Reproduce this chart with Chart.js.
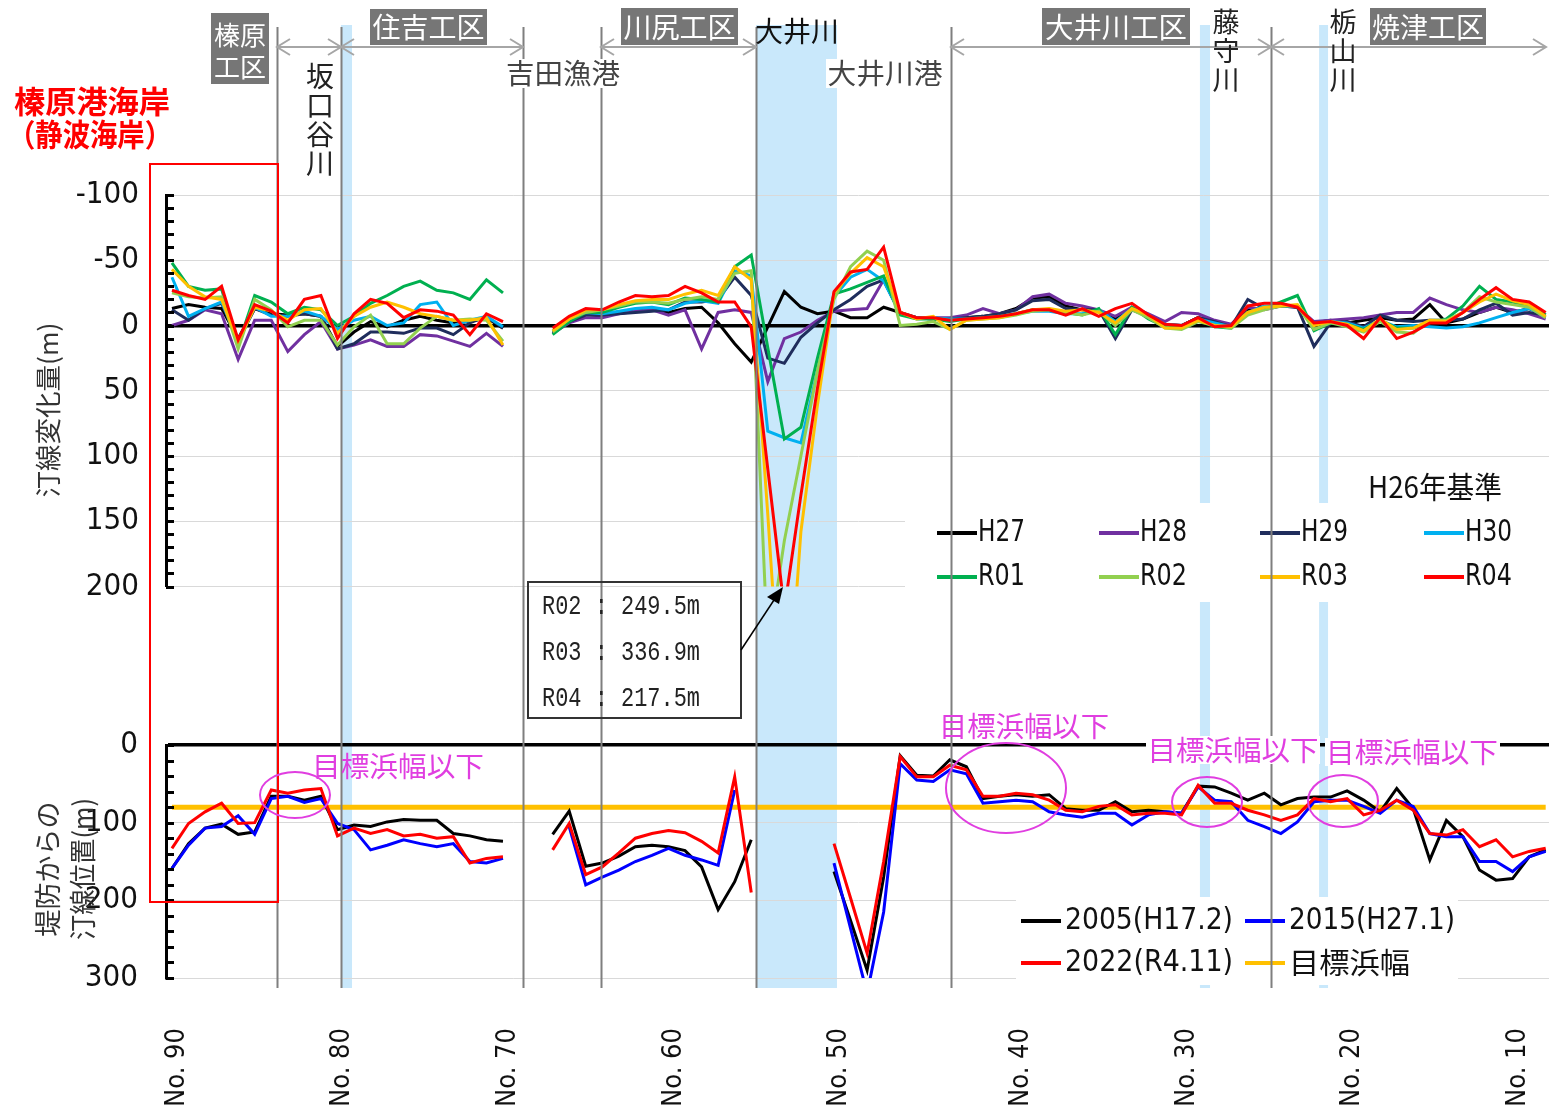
<!DOCTYPE html>
<html lang="ja">
<head>
<meta charset="utf-8">
<title>汀線変化量・堤防からの汀線位置</title>
<script src="https://cdn.jsdelivr.net/npm/chart.js@4.4.1/dist/chart.umd.min.js"></script>
<style>
html,body{margin:0;padding:0;background:#fff;overflow:hidden;}
#wrap{position:relative;width:1549px;height:1106px;background:#fff;}
#wrap canvas{position:absolute;left:0;top:0;}
</style>
</head>
<body>
<div id="wrap">
<canvas id="bottomChart" width="1549" height="1106"></canvas>
<canvas id="topChart" width="1549" height="1106"></canvas>
</div>
<script>
// ================= DATA =================
// survey lines (categories), left to right
const surveyLines = [
 'No.90','No.89','No.88','No.87','No.86','No.85','No.84','No.83','No.82','No.81',
 'No.80','No.79','No.78','No.77','No.76','No.75','No.74','No.73','No.72','No.71',
 'No.70','No.69','No.68','No.67','No.66','No.65','No.64','No.63','No.62','No.61',
 'No.60','No.59','No.58','No.57','No.56','No.55','No.54','No.53','No.52','No.51',
 'No.50','No.49','No.48','No.47','No.46','No.45','No.44','No.43','No.42','No.41',
 'No.40.5','No.40','No.39','No.38','No.37','No.36','No.35','No.34','No.33','No.32',
 'No.31','No.30','No.29','No.28','No.27','No.26','No.25','No.24','No.23','No.22',
 'No.21','No.20','No.19','No.18','No.17','No.16','No.15','No.14','No.13','No.12',
 'No.11','No.10','No.9','No.8'
];
const xTickLines  = ['No.90','No.80','No.70','No.60','No.50','No.40','No.30','No.20','No.10'];
const xTickLabels = ['No. 90','No. 80','No. 70','No. 60','No. 50','No. 40','No. 30','No. 20','No. 10'];

const yTopTicks  = [-100,-50,0,50,100,150,200];
const yTopLabels = ['-100','-50','0','50','100','150','200'];
const yBotTicks  = [0,100,200,300];
const yBotLabels = ['0','100','200','300'];

// shoreline change (m) relative to H26
const H27 = [-13,-16,-14,-13,10,-13,-9,-8,-9,-7,16,5,-3,1,-4,-7,-4,-2,-3,-6,2, null,null,
 6,-3,-9,-7,-10,-11,-12,-10,-13,-14,-2,14,28,1,-26,-14,-9,-11,-6,-6,-14,-10,
 -6,-5,-5,-6,-7,-9,-13,-21,-22,-15,-12,-11,-5,-13,-8,-1,0,-6,-3,0,-12,-14,-16,-14,-2,-4,-2,-4,-6,-4,-5,-16,-2,-5,-10,-14,-10,-13,-8];
const H28 = [0,-4,-12,-9,26,-4,-4,20,7,-3,18,15,11,16,16,7,8,12,16,6,16, null,null,
 6,-2,-6,-6,-9,-11,-12,-8,-12,18,-10,-12,-10,43,10,5,-4,-11,-12,-13,-35,-9,
 -6,-6,-6,-8,-13,-9,-12,-22,-24,-17,-15,-12,-7,-14,-9,-3,-10,-9,-4,-1,-14,-12,-15,-14,-3,-4,-5,-6,-8,-10,-10,-21,-16,-12,-10,-14,-12,-9,-5];
const H29 = [-12,-4,-13,-17,12,-13,-8,-7,-9,-7,18,14,5,5,6,2,2,7,-2,-7,2, null,null,
 5,-3,-8,-8,-9,-10,-11,-12,-18,-18,-20,-37,-23,25,29,9,-2,-12,-20,-30,-35,-9,
 -6,-5,-5,-6,-7,-9,-12,-19,-20,-13,-12,-12,10,-12,-7,0,0,-6,-3,1,-20,-13,-15,-14,16,-2,-3,1,-8,-4,-3,-4,-4,-5,-12,-17,-8,-10,-8];
const H30 = [-37,-7,-13,-18,11,-14,-7,-7,-11,-7,3,-4,-7,0,-2,-16,-18,0,-4,-7,1, null,null,
 4,-5,-10,-9,-11,-13,-14,-12,-17,-19,-17,-42,-38,81,86,90,35,-22,-37,-43,-34,-9,
 -6,-6,-5,-5,-6,-7,-9,-11,-11,-9,-9,-12,-3,-13,-7,-1,0,-5,-2,1,-10,-15,-15,-15,-1,-3,-2,2,-4,1,0,1,2,1,-2,-6,-10,-13,-8];
const R01 = [-48,-30,-27,-28,15,-23,-18,-9,-14,-12,0,-7,-17,-23,-30,-34,-27,-25,-20,-35,-25, null,null,
 7,-3,-10,-10,-14,-17,-18,-16,-21,-20,-18,-45,-54,17,87,78,25,-24,-28,-33,-38,-8,
 -5,-5,-3,-5,-6,-7,-9,-12,-12,-10,-8,-13,7,-14,-5,1,2,-4,1,2,-10,-13,-18,-23,4,-2,-1,3,-4,2,2,-2,-5,-15,-30,-20,-18,-15,-8];
const R02 = [-25,-22,-21,-22,18,-20,-12,1,-4,-4,15,1,-8,14,14,2,-7,-4,-5,-4,12, null,null,
 5,-5,-10,-12,-15,-18,-18,-17,-20,-22,-20,-40,-42,249.5,165,100,35,-20,-45,-57,-50,0,
 -1,-3,3,-4,-5,-6,-8,-11,-12,-10,-8,-11,0,-12,-6,2,3,-3,0,2,-8,-12,-15,-15,3,-2,1,5,-3,5,6,-4,-4,-10,-22,-18,-16,-14,-6];
const R03 = [-43,-30,-22,-20,12,-14,-11,-4,-12,-13,6,-7,-14,-18,-14,-9,-7,-4,-4,-6,15, null,null,
 4,-5,-12,-12,-16,-19,-20,-20,-24,-27,-23,-45,-35,145,336.9,158,61,-25,-40,-52,-45,-10,
 -5,-7,3,-4,-5,-6,-9,-12,-13,-11,-12,-10,-2,-13,-8,2,2,-4,0,1,-10,-14,-15,-16,0,-3,-1,4,-5,3,2,-4,-3,-10,-18,-24,-19,-16,-7];
const R04 = [-27,-23,-20,-30,11,-16,-11,-2,-20,-23,10,-9,-20,-17,-6,-12,-11,-8,7,-9,-3, null,null,
 2,-7,-13,-12,-18,-23,-22,-23,-30,-25,-18,-18,1,110,217.5,130,48,-26,-41,-43,-60,-10,
 -6,-6,-4,-5,-6,-7,-9,-12,-12,-8,-13,-7,-13,-17,-8,-1,0,-6,1,0,-15,-17,-17,-14,-2,-3,0,10,-6,10,5,-2,-2,-10,-20,-29,-20,-18,-10];

// shoreline position from the embankment (m)
const pos2005 = [159,127,107,102,115,112,66,66,71,66,109,103,105,99,96,97,97,114,117,122,124, null,null,
 115,85,156,152,143,131,129,131,136,157,212,176,122, null,null,null,null,
 163,226,290,170,14,39,40,19,28,69,66,64,66,64,82,84,84,73,86,84,86,88,53,54,62,71,62,77,69,67,67,59,71,86,56,82,148,97,118,161,174,172,144,135];
const pos2015 = [159,129,107,105,91,115,69,66,74,69,101,109,135,129,122,127,131,127,150,152,146, null,null,
 null,105,180,170,161,150,142,133,142,148,155,58,null, null,null,null,null,
 152,236,320,215,24,45,47,32,37,75,73,71,73,86,90,93,88,88,103,90,86,88,54,71,73,97,105,114,99,73,71,71,79,88,71,79,114,118,118,150,150,163,144,137];
const pos2022 = [133,101,86,75,101,100,58,62,58,56,117,107,114,109,117,115,120,118,152,146,144, null,null,
 135,101,167,157,139,120,114,110,113,124,139,41,190, null,null,null,null,
 127,197,268,150,15,41,41,26,32,66,66,62,64,71,84,86,79,77,90,88,88,90,52,75,75,84,90,97,90,69,73,69,90,84,71,84,114,116,109,131,122,144,137,133];
const targetLines = ['No.90','No.8'];
const targetWidth = [80, 80];

const topNames  = ['H27','H28','H29','H30','R01','R02','R03','R04'];
const topValues = [H27,H28,H29,H30,R01,R02,R03,R04];
const botNames  = ['2005(H17.2)','2015(H27.1)','2022(R4.11)','目標浜幅'];

// ================= STYLE / LAYOUT =================
const topColors = ['#000000','#7030a0','#1f2d5c','#00b0f0','#00b050','#92d050','#ffc000','#ff0000'];
const botColors = ['#000000','#0000ff','#ff0000','#ffc000'];
const NARROW = '"Liberation Sans Narrow","DejaVu Sans Condensed","Noto Sans CJK JP",sans-serif';
const JP = '"Noto Sans CJK JP","Noto Sans CJK SC",sans-serif';
const MONO = '"Liberation Mono","DejaVu Sans Mono",monospace';
const W = 1549, H = 1106;
const AXIS_W = 166;
const TOP_AREA = [195, 586.5];
const BOT_AREA = [745, 978];
const X_MIN = -0.36, X_MAX = 83.2;
// section boundaries / rivers in survey-line units
const sectionBoundaries = [6.34, 10.21, 21.21, 25.92, 35.29, 47.07, 66.4];
const riverBands = [[10.21,10.88],[35.29,40.18],[62.11,62.72],[69.31,69.85]];

const idx = name => surveyLines.indexOf(name);
const pts = arr => arr.map((v,i) => ({x:i, y:v}));

function txt(ctx, s, x, y, o) {
  ctx.save();
  ctx.font = o.font; ctx.fillStyle = o.color || '#000';
  ctx.textBaseline = 'middle';
  const m = ctx.measureText(s).width;
  const sx = o.w ? o.w / m : 1;
  ctx.translate(x, y);
  if (o.rot) ctx.rotate(o.rot);
  ctx.scale(sx, 1);
  ctx.textAlign = o.align || 'left';
  ctx.fillText(s, 0, 0);
  ctx.restore();
}
function minorTicks(chart, scale, from, to, step) {
  const ctx = chart.ctx, x = chart.chartArea.left;
  ctx.save(); ctx.strokeStyle = '#000'; ctx.lineWidth = 3;
  for (let v = from; v <= to + 1e-9; v += step) {
    const y = Math.round(scale.getPixelForValue(v)) + 0.5;
    ctx.beginPath(); ctx.moveTo(x, y); ctx.lineTo(x + 8, y); ctx.stroke();
  }
  ctx.restore();
}
function dblArrow(ctx, x1, x2, y) {
  ctx.save(); ctx.strokeStyle = '#a6a6a6'; ctx.lineWidth = 2;
  ctx.beginPath(); ctx.moveTo(x1, y); ctx.lineTo(x2, y);
  ctx.moveTo(x1 + 13, y - 8); ctx.lineTo(x1, y); ctx.lineTo(x1 + 13, y + 8);
  ctx.moveTo(x2 - 13, y - 8); ctx.lineTo(x2, y); ctx.lineTo(x2 - 13, y + 8);
  ctx.stroke(); ctx.restore();
}
function grayBox(ctx, x, y, w, h) { ctx.save(); ctx.fillStyle = '#767676'; ctx.fillRect(x, y, w, h); ctx.restore(); }

const gridColor = v => v === 0 ? '#000' : '#d9d9d9';
const gridWidth = v => v === 0 ? 3.5 : 1;

// ================= BOTTOM CHART (under) =================
const bottomPlugin = {
  id: 'bottomDeco',
  beforeDraw(chart) {
    const ctx = chart.ctx, xs = chart.scales.x;
    ctx.save(); ctx.fillStyle = '#c9e8fb';
    riverBands.forEach(([a,b]) => {
      const x1 = xs.getPixelForValue(a), x2 = xs.getPixelForValue(b);
      ctx.fillRect(x1, 25, x2 - x1, 988 - 25);
    });
    ctx.restore();
  },
  afterDraw(chart) {
    minorTicks(chart, chart.scales.y, 0, 300, 20);
    // legend (bottom panel)
    const ctx = chart.ctx;
    ctx.save(); ctx.fillStyle = '#fff'; ctx.fillRect(1016, 897, 442, 88); ctx.restore();
    const cols = [1021, 1245], rows = [921, 963];
    const widths = [168, 166, 168, 121];
    chart.data.datasets.forEach((ds, i) => {
      const k = botNames.indexOf(ds.label);
      const x = cols[k % 2], y = rows[Math.floor(k / 2)];
      ctx.save(); ctx.strokeStyle = ds.borderColor; ctx.lineWidth = 4;
      ctx.beginPath(); ctx.moveTo(x, y); ctx.lineTo(x + 40, y); ctx.stroke(); ctx.restore();
      txt(ctx, ds.label, x + 44, y, {font: (k === 3 ? '29px ' + JP : '30px ' + NARROW), color: '#111', w: widths[k]});
    });
  }
};

new Chart(document.getElementById('bottomChart'), {
  type: 'line',
  data: { datasets: [
    {label: botNames[2], data: pts(pos2022), borderColor: botColors[2], order: 1},
    {label: botNames[1], data: pts(pos2015), borderColor: botColors[1], order: 2},
    {label: botNames[0], data: pts(pos2005), borderColor: botColors[0], order: 3},
    {label: botNames[3], data: targetLines.map((n,i) => ({x: idx(n), y: targetWidth[i]})), borderColor: botColors[3], borderWidth: 5, order: 4}
  ].map(d => Object.assign({borderWidth: 3, pointRadius: 0, tension: 0, fill: false, spanGaps: false, backgroundColor: d.borderColor}, d)) },
  options: {
    responsive: false, animation: false, events: [],
    layout: { padding: {left: 0, right: 0, top: BOT_AREA[0], bottom: 0}, autoPadding: false },
    plugins: { legend: {display: false}, tooltip: {enabled: false} },
    scales: {
      x: {
        type: 'linear', min: X_MIN, max: X_MAX,
        afterBuildTicks: s => { s.ticks = xTickLines.map(n => ({value: idx(n)})); },
        afterFit: s => { s.height = H - BOT_AREA[1]; },
        grid: {display: true, drawOnChartArea: false, drawTicks: true, tickLength: 50, color: 'rgba(0,0,0,0)', tickColor: 'rgba(0,0,0,0)'},
        border: {display: false},
        ticks: { autoSkip: false, minRotation: 90, maxRotation: 90, padding: 0, labelOffset: 5, color: '#111',
          font: {family: NARROW, size: 27},
          callback: (v) => xTickLabels[xTickLines.indexOf(surveyLines[v])] }
      },
      y: {
        type: 'linear', reverse: true, min: 0, max: 300,
        afterBuildTicks: s => { s.ticks = yBotTicks.map(v => ({value: v})); },
        afterFit: s => { s.width = AXIS_W; },
        grid: { color: c => gridColor(c.tick && c.tick.value), lineWidth: c => gridWidth(c.tick && c.tick.value), drawTicks: false },
        border: { color: '#000', width: 3 },
        ticks: { padding: 28, color: '#111', font: {family: NARROW, size: 31},
          callback: v => yBotLabels[yBotTicks.indexOf(v)] }
      }
    }
  },
  plugins: [bottomPlugin]
});

// ================= TOP CHART (over) =================
const topPlugin = {
  id: 'topDeco',
  afterDatasetsDraw(chart) {
    const ctx = chart.ctx;
    // legend box
    ctx.save(); ctx.fillStyle = '#fff'; ctx.fillRect(905, 503, 644, 99); ctx.restore();
    txt(ctx, 'H26年基準', 1368, 487, {font: '30px ' + JP, color: '#111', w: 134});
    const cols = [937, 1099, 1260, 1424], rows = [533, 577];
    chart.data.datasets.forEach(ds => {
      const k = topNames.indexOf(ds.label);
      const x = cols[k % 4], y = rows[Math.floor(k / 4)];
      ctx.save(); ctx.strokeStyle = ds.borderColor; ctx.lineWidth = 4;
      ctx.beginPath(); ctx.moveTo(x, y); ctx.lineTo(x + 40, y); ctx.stroke(); ctx.restore();
      txt(ctx, ds.label, x + 41, y, {font: '31px ' + NARROW, color: '#111', w: 47});
    });
  },
  afterDraw(chart) {
    const ctx = chart.ctx, xs = chart.scales.x;
    minorTicks(chart, chart.scales.y, -100, 200, 10);

    // section boundary lines
    ctx.save(); ctx.strokeStyle = '#7f7f7f'; ctx.lineWidth = 2;
    sectionBoundaries.forEach(k => {
      const x = Math.round(xs.getPixelForValue(k)) + 0.5;
      ctx.beginPath(); ctx.moveTo(x, 27); ctx.lineTo(x, 988); ctx.stroke();
    });
    ctx.restore();

    // arrows
    [[277,341],[341,523],[601,756],[951,1271],[1271,1546]].forEach(([a,b]) => dblArrow(ctx, a, b, 47));

    // gray section labels
    grayBox(ctx, 211, 13, 58, 71);
    txt(ctx, '榛原', 240, 35, {font: '26px ' + JP, color: '#fff', align: 'center', w: 52});
    txt(ctx, '工区', 240, 67, {font: '26px ' + JP, color: '#fff', align: 'center', w: 52});
    grayBox(ctx, 370, 9, 117, 36);  txt(ctx, '住吉工区', 428.5, 27, {font: '28px ' + JP, color: '#fff', align: 'center', w: 112});
    grayBox(ctx, 621, 8, 117, 37);  txt(ctx, '川尻工区', 679.5, 27, {font: '28px ' + JP, color: '#fff', align: 'center', w: 112});
    grayBox(ctx, 1042, 8, 148, 37); txt(ctx, '大井川工区', 1116, 27, {font: '28px ' + JP, color: '#fff', align: 'center', w: 142});
    grayBox(ctx, 1370, 8, 116, 37); txt(ctx, '焼津工区', 1428, 27, {font: '28px ' + JP, color: '#fff', align: 'center', w: 112});

    // place names
    txt(ctx, '大井川', 797, 31, {font: '28px ' + JP, color: '#111', align: 'center', w: 84});
    ctx.save(); ctx.fillStyle = '#fff'; ctx.fillRect(504, 59, 118, 29); ctx.fillRect(826, 59, 118, 29); ctx.restore();
    txt(ctx, '吉田漁港', 563, 73, {font: '28px ' + JP, color: '#444', align: 'center', w: 114});
    txt(ctx, '大井川港', 885, 73, {font: '28px ' + JP, color: '#444', align: 'center', w: 115});
    ['坂','口','谷','川'].forEach((c, i) => txt(ctx, c, 320, 76 + i * 29, {font: '28px ' + JP, color: '#222', align: 'center'}));
    ['藤','守','川'].forEach((c, i) => txt(ctx, c, 1226, 22 + i * 29, {font: '27px ' + JP, color: '#222', align: 'center'}));
    ['栃','山','川'].forEach((c, i) => txt(ctx, c, 1343, 22 + i * 29, {font: '27px ' + JP, color: '#222', align: 'center'}));

    // red area title and frame
    txt(ctx, '榛原港海岸', 92, 101, {font: 'bold 31px ' + JP, color: '#ff0000', align: 'center', w: 156});
    txt(ctx, '（静波海岸）', 90, 134, {font: 'bold 31px ' + JP, color: '#ff0000', align: 'center', w: 164});
    ctx.save(); ctx.strokeStyle = '#ff0000'; ctx.lineWidth = 2; ctx.strokeRect(150, 164, 128, 738); ctx.restore();

    // axis titles
    txt(ctx, '汀線変化量(m)', 48, 410, {font: '26px ' + JP, color: '#333', align: 'center', rot: -Math.PI / 2, w: 175});
    txt(ctx, '堤防からの', 48, 869, {font: '27px ' + JP, color: '#333', align: 'center', rot: -Math.PI / 2, w: 135});
    txt(ctx, '汀線位置(m)', 83, 869, {font: '27px ' + JP, color: '#333', align: 'center', rot: -Math.PI / 2, w: 142});

    // annotation box with out-of-range values
    ctx.save(); ctx.strokeStyle = '#333'; ctx.lineWidth = 2; ctx.strokeRect(528, 582, 213, 136); ctx.restore();
    const notes = ['R02 : 249.5m', 'R03 : 336.9m', 'R04 : 217.5m'];
    notes.forEach((s, i) => txt(ctx, s, 542, 607 + i * 46, {font: '27px ' + MONO, color: '#222', w: 158}));
    ctx.save(); ctx.strokeStyle = '#000'; ctx.fillStyle = '#000'; ctx.lineWidth = 1.5;
    ctx.beginPath(); ctx.moveTo(741, 650); ctx.lineTo(776, 597); ctx.stroke();
    ctx.beginPath(); ctx.moveTo(783, 587); ctx.lineTo(767, 597); ctx.lineTo(779, 604); ctx.closePath(); ctx.fill();
    ctx.restore();

    // magenta marks
    const MAG = '#e03ee0';
    ctx.save(); ctx.fillStyle = '#fff'; ctx.fillRect(1146, 736, 174, 28); ctx.fillRect(1325, 738, 175, 28); ctx.restore();
    txt(ctx, '目標浜幅以下', 398, 766, {font: '28px ' + JP, color: MAG, align: 'center', w: 172});
    txt(ctx, '目標浜幅以下', 1024, 726, {font: '28px ' + JP, color: MAG, align: 'center', w: 170});
    txt(ctx, '目標浜幅以下', 1233, 750, {font: '28px ' + JP, color: MAG, align: 'center', w: 171});
    txt(ctx, '目標浜幅以下', 1412, 752, {font: '28px ' + JP, color: MAG, align: 'center', w: 172});
    ctx.save(); ctx.strokeStyle = MAG; ctx.lineWidth = 2;
    [[295,795,35,23],[1006,788,60,45],[1207,802,35,25],[1343,801,35,26]].forEach(([cx,cy,rx,ry]) => {
      ctx.beginPath(); ctx.ellipse(cx, cy, rx, ry, 0, 0, Math.PI * 2); ctx.stroke();
    });
    ctx.restore();
  }
};

new Chart(document.getElementById('topChart'), {
  type: 'line',
  data: { datasets: topNames.map((n, i) => ({
    label: n, data: pts(topValues[i]), borderColor: topColors[i], backgroundColor: topColors[i],
    borderWidth: 3, pointRadius: 0, tension: 0, fill: false, spanGaps: false, order: topNames.length - i
  })) },
  options: {
    responsive: false, animation: false, events: [],
    layout: { padding: {left: 0, right: 0, top: TOP_AREA[0], bottom: H - TOP_AREA[1]}, autoPadding: false },
    plugins: { legend: {display: false}, tooltip: {enabled: false} },
    scales: {
      x: { type: 'linear', min: X_MIN, max: X_MAX, display: false },
      y: {
        type: 'linear', reverse: true, min: -100, max: 200,
        afterBuildTicks: s => { s.ticks = yTopTicks.map(v => ({value: v})); },
        afterFit: s => { s.width = AXIS_W; },
        grid: { color: c => gridColor(c.tick && c.tick.value), lineWidth: c => gridWidth(c.tick && c.tick.value), drawTicks: false },
        border: { color: '#000', width: 3 },
        ticks: { padding: 27, color: '#111', font: {family: NARROW, size: 31},
          callback: v => yTopLabels[yTopTicks.indexOf(v)] }
      }
    }
  },
  plugins: [topPlugin]
});
</script>
</body>
</html>
